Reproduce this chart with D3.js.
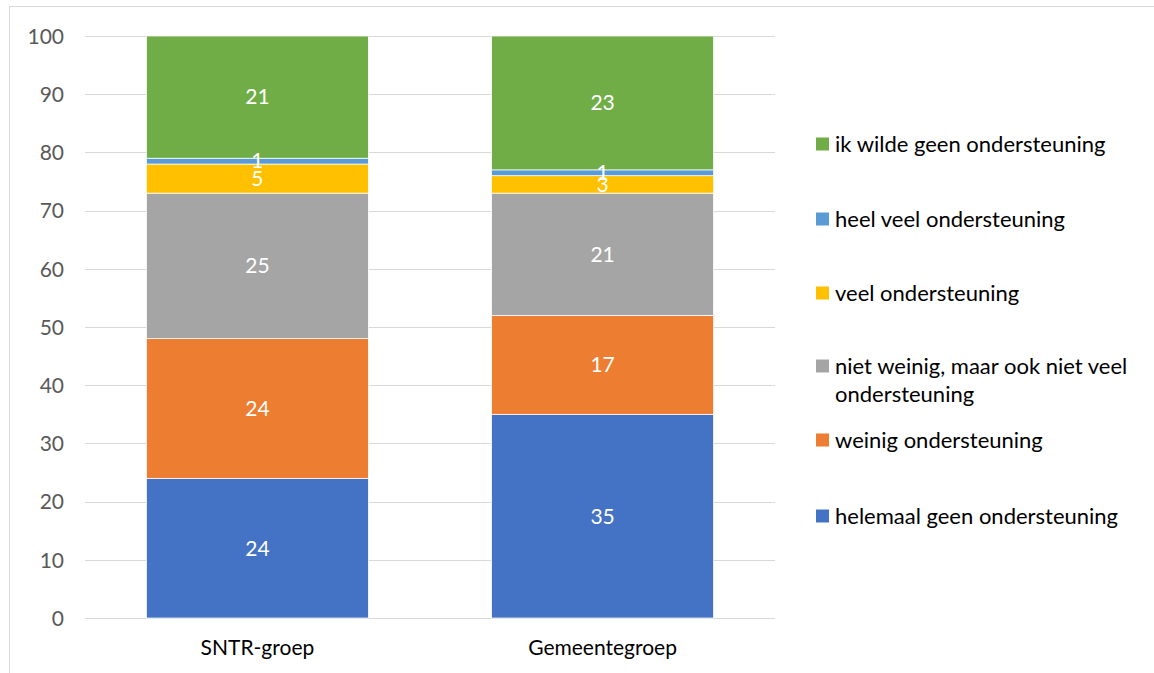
<!DOCTYPE html>
<html><head><meta charset="utf-8">
<script src="https://cdn.jsdelivr.net/npm/d3@7"></script>
<style>body{margin:0;background:#fff;} svg{display:block;font-family:Lato, "Open Sans", sans-serif;}</style>
</head><body>
<svg id="c" width="1154" height="673"></svg>
<script>
const categories = ["SNTR-groep", "Gemeentegroep"];
const seriesNames = ["helemaal geen ondersteuning", "weinig ondersteuning", "niet weinig, maar ook niet veel ondersteuning", "veel ondersteuning", "heel veel ondersteuning", "ik wilde geen ondersteuning"];
const sntrValues = [24, 24, 25, 5, 1, 21];
const gemeenteValues = [35, 17, 21, 3, 1, 23];
const colors = ["#4472C4", "#ED7D31", "#A5A5A5", "#FFC000", "#5B9BD5", "#70AD47"];
const yTicks = [0, 10, 20, 30, 40, 50, 60, 70, 80, 90, 100];
const legendLines = [["helemaal geen ondersteuning"], ["weinig ondersteuning"], ["niet weinig, maar ook niet veel", "ondersteuning"], ["veel ondersteuning"], ["heel veel ondersteuning"], ["ik wilde geen ondersteuning"]];

const svg = d3.select("#c");
svg.append("rect").attr("x", 9.5).attr("y", 6.5).attr("width", 1160).attr("height", 700)
  .attr("fill", "#fff").attr("stroke", "#d9d9d9").attr("stroke-width", 1);

const x0 = 85, x1 = 775, yTop = 36, yBot = 618;
const x = d3.scaleBand().domain(categories).range([x0, x1]).paddingInner(0.357).paddingOuter(0.178);
const y = d3.scaleLinear().domain([0, 100]).range([yBot, yTop]);

const data = categories.map((c, i) => {
  const vals = i === 0 ? sntrValues : gemeenteValues;
  const o = {cat: c};
  seriesNames.forEach((s, j) => o[s] = vals[j]);
  return o;
});
const stack = d3.stack().keys(seriesNames)(data);

// gridlines
svg.append("g").selectAll("line").data(yTicks).join("line")
  .attr("x1", x0).attr("x2", x1)
  .attr("y1", d => Math.round(y(d)) + 0.5).attr("y2", d => Math.round(y(d)) + 0.5)
  .attr("stroke", "#d9d9d9").attr("stroke-width", 1);

// y axis labels
const yAxis = d3.axisLeft(y).tickValues(yTicks).tickSize(0).tickPadding(0);
const ga = svg.append("g").attr("transform", `translate(64,0)`).call(yAxis);
ga.select(".domain").remove();
ga.selectAll("text").attr("font-size", 21).attr("fill", "#595959").attr("font-family", "Lato, sans-serif").attr("dy", "0.35em");

// bars
const layers = svg.append("g").selectAll("g").data(stack).join("g")
  .attr("fill", (d, i) => colors[i]);
layers.selectAll("rect").data(d => d).join("rect")
  .attr("x", d => x(d.data.cat))
  .attr("width", x.bandwidth())
  .attr("y", d => y(d[1]))
  .attr("height", d => y(d[0]) - y(d[1]))
  .attr("stroke", "#fff").attr("stroke-width", 0.75);

// value labels
stack.forEach((layer, i) => {
  svg.append("g").selectAll("text").data(layer).join("text")
    .attr("x", d => x(d.data.cat) + x.bandwidth() / 2)
    .attr("y", d => (y(d[0]) + y(d[1])) / 2)
    .attr("dy", "0.35em")
    .attr("text-anchor", "middle")
    .attr("font-size", 21).attr("fill", "#fff")
    .text(d => d[1] - d[0]);
});

// x labels
const xAxis = d3.axisBottom(x).tickSize(0).tickPadding(0);
const gx = svg.append("g").attr("transform", `translate(0,648)`).call(xAxis);
gx.select(".domain").remove();
gx.selectAll("text").attr("font-size", 21).attr("fill", "#000").attr("font-family", "Lato, sans-serif").attr("dy", "0.35em");

// legend (top to bottom: reversed series)
const legendY = [516, 440, 366, 293, 219, 144];
seriesNames.forEach((s, i) => {
  const g = svg.append("g");
  g.append("rect").attr("x", 816).attr("y", legendY[i] - 6.5).attr("width", 13).attr("height", 13).attr("fill", colors[i]);
  legendLines[i].forEach((ln, k) => {
    g.append("text").attr("x", 835).attr("y", legendY[i] + k * 28).attr("dy", "0.35em")
      .attr("font-size", 22).attr("fill", "#000").text(ln);
  });
});
</script>
</body></html>
